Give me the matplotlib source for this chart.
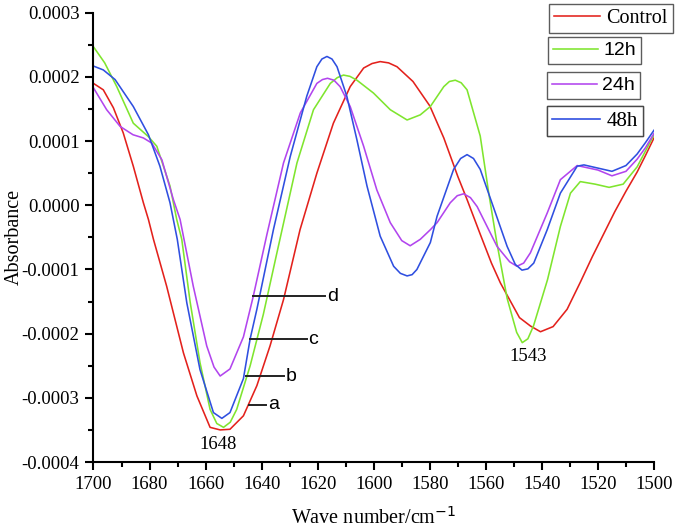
import matplotlib
matplotlib.use("Agg")
import matplotlib.pyplot as plt
from matplotlib.ticker import FixedLocator, FuncFormatter, MultipleLocator

plt.rcParams['font.family'] = 'Liberation Serif'
plt.rcParams['axes.unicode_minus'] = False

# readings, wave number (cm-1) and absorbance (x1e-4)
control_x = [1700, 1696.5, 1692.9, 1689.4, 1685.8, 1682.2, 1680.4, 1678.6, 1673.9, 1667.9,
             1663.1, 1658.4, 1654.8, 1651.3, 1646.5, 1641.7, 1637, 1632.2, 1626.3, 1620.3,
             1614.4, 1608.4, 1603.6, 1600.6, 1597.7, 1594.7, 1591.7, 1586, 1580, 1575,
             1570, 1566.7, 1562, 1558, 1554.8, 1548, 1544.1, 1540.5, 1536, 1531,
             1526.3, 1522, 1518, 1514, 1510, 1506, 1503, 1500]
control_y = [1.90, 1.80, 1.52, 1.13, 0.61, 0.04, -0.22, -0.53, -1.26, -2.30,
             -2.97, -3.46, -3.50, -3.49, -3.28, -2.81, -2.19, -1.47, -0.38, 0.50,
             1.28, 1.85, 2.14, 2.21, 2.24, 2.22, 2.16, 1.93, 1.55, 1.05,
             0.45, 0.09, -0.45, -0.90, -1.21, -1.75, -1.88, -1.97, -1.89, -1.62,
             -1.20, -0.80, -0.45, -0.10, 0.22, 0.52, 0.78, 1.05]

h12_x = [1700, 1696, 1691.7, 1685.8, 1680.4, 1677.4, 1672.7, 1670.3, 1668.5, 1665.5,
         1662, 1658.4, 1656, 1653.6, 1651.2, 1648.9, 1644.1, 1639.4, 1634.6, 1627.4,
         1621.5, 1615.5, 1613, 1610.8, 1608.5, 1606, 1600.1, 1594.1, 1588.1, 1583.4,
         1579.8, 1575, 1573, 1570.9, 1568.8, 1566.7, 1562, 1559, 1556, 1552.4,
         1549, 1547, 1545, 1543, 1538, 1533.4, 1529.8, 1526.3, 1521, 1516,
         1511, 1506, 1503, 1500]
h12_y = [2.47, 2.22, 1.85, 1.28, 1.07, 0.92, 0.30, -0.22, -0.53, -1.51,
         -2.45, -3.18, -3.40, -3.46, -3.38, -3.18, -2.50, -1.70, -0.75, 0.66,
         1.49, 1.90, 1.99, 2.03, 2.01, 1.95, 1.75, 1.49, 1.33, 1.41,
         1.54, 1.85, 1.93, 1.95, 1.91, 1.80, 1.08, 0.20, -0.60, -1.45,
         -1.98, -2.14, -2.08, -1.88, -1.16, -0.33, 0.19, 0.37, 0.33, 0.28,
         0.33, 0.60, 0.85, 1.10]

h24_x = [1700, 1695.3, 1690.5, 1685.9, 1682.2, 1679.2, 1675.6, 1671.5, 1669.1, 1664.4,
         1659.6, 1657, 1654.8, 1651.3, 1646.5, 1643, 1638.1, 1632.2, 1626.2, 1620.3,
         1618.3, 1616.5, 1614.2, 1612, 1608.4, 1603.6, 1598.9, 1594.1, 1590, 1587,
         1583.4, 1579.8, 1577.4, 1572.7, 1570.2, 1567.9, 1565.5, 1563.1, 1556, 1551.5,
         1548.9, 1546.5, 1544.1, 1538.1, 1533.4, 1527.4, 1520, 1515, 1510, 1506,
         1503, 1500]
h24_y = [1.83, 1.49, 1.23, 1.10, 1.05, 0.97, 0.71, 0.09, -0.22, -1.26,
         -2.19, -2.52, -2.66, -2.55, -2.05, -1.42, -0.45, 0.66, 1.44, 1.90,
         1.96, 1.98, 1.95, 1.85, 1.54, 0.92, 0.24, -0.27, -0.55, -0.63,
         -0.53, -0.38, -0.27, 0.04, 0.15, 0.18, 0.12, -0.02, -0.64, -0.88,
         -0.95, -0.90, -0.74, -0.12, 0.40, 0.62, 0.55, 0.46, 0.53, 0.72,
         0.90, 1.12]

h48_x = [1700, 1696.5, 1692.3, 1685.8, 1680.4, 1676.3, 1672.7, 1670.1, 1666.7, 1662,
         1657.2, 1654.2, 1651.3, 1646.5, 1644.1, 1641.7, 1635.8, 1629.8, 1623.9, 1620.3,
         1618.5, 1616.7, 1614.9, 1613.1, 1609.6, 1606, 1602.4, 1597.7, 1592.9, 1590.5,
         1588.1, 1586.3, 1584.6, 1579.8, 1577.4, 1571.5, 1569, 1566.7, 1564.4, 1562,
         1557.2, 1552.4, 1549.5, 1547.1, 1545, 1542.9, 1538.1, 1533.4, 1527.4, 1525,
         1520, 1515, 1510, 1506, 1503, 1500]
h48_y = [2.17, 2.11, 1.96, 1.54, 1.10, 0.61, 0.04, -0.53, -1.52, -2.56,
         -3.23, -3.32, -3.23, -2.70, -2.08, -1.62, -0.38, 0.76, 1.70, 2.16,
         2.28, 2.32, 2.28, 2.16, 1.70, 1.02, 0.30, -0.48, -0.95, -1.06,
         -1.10, -1.08, -1.00, -0.58, -0.17, 0.56, 0.73, 0.79, 0.73, 0.56,
         -0.04, -0.64, -0.92, -1.01, -0.99, -0.90, -0.38, 0.19, 0.61, 0.63,
         0.58, 0.53, 0.62, 0.80, 0.98, 1.17]

series = [
    ("Control", control_x, control_y, "#e3211c", "Liberation Serif", 14.5),
    ("12h", h12_x, h12_y, "#7fe52e", "Liberation Sans", 14),
    ("24h", h24_x, h24_y, "#b245ee", "Liberation Sans", 14),
    ("48h", h48_x, h48_y, "#2f4fe0", "Liberation Serif", 15),
]

# labelled leader lines: letter, x from, x to, y (x1e-4)
leaders = [("a", 1644.4, 1638.4, -3.11),
           ("b", 1645.5, 1632.0, -2.66),
           ("c", 1644.1, 1623.9, -2.09),
           ("d", 1643.1, 1617.3, -1.42)]

peak_labels = [("1648", 1655.4, -3.72), ("1543", 1544.8, -2.35)]

yticks = [-4, -3, -2, -1, 0, 1, 2, 3]
xticks = [1700, 1680, 1660, 1640, 1620, 1600, 1580, 1560, 1540, 1520, 1500]

fig = plt.figure(figsize=(6.77, 5.30), dpi=100)
ax = fig.add_axes([0.1381, 0.1283, 0.8279, 0.8475])

lines = []
for name, xs, ys, col, fam, fs in series:
    ln, = ax.plot(xs, [v * 1e-4 for v in ys], color=col, lw=1.15)
    lines.append(ln)

for letter, x0, x1, yv in leaders:
    ax.plot([x0, x1], [yv * 1e-4, yv * 1e-4], color="#222222", lw=1.4)
    ax.text(x1 - 0.6, yv * 1e-4, letter, family="Liberation Sans", fontsize=14,
            ha="left", va="center")

for txt, xv, yv in peak_labels:
    ax.text(xv, yv * 1e-4, txt, fontsize=13.5, ha="center", va="center")

ax.set_xlim(1700, 1500)
ax.set_ylim(-0.0004, 0.0003)
ax.yaxis.set_major_locator(FixedLocator([t * 1e-4 for t in yticks]))
ax.yaxis.set_minor_locator(FixedLocator([(t + 0.5) * 1e-4 for t in yticks[:-1]]))
ax.yaxis.set_major_formatter(FuncFormatter(lambda v, p: "%.4f" % (round(v * 1e4) / 1e4) if round(v * 1e4) != 0 else "0.0000"))
ax.xaxis.set_major_locator(FixedLocator(xticks))
ax.xaxis.set_minor_locator(MultipleLocator(10))

for s in ["top", "right"]:
    ax.spines[s].set_visible(False)
for s in ["left", "bottom"]:
    ax.spines[s].set_linewidth(1.5)
ax.tick_params(which="major", direction="out", length=6, width=1.5, labelsize=13.5, pad=4)
ax.tick_params(which="minor", direction="out", length=3.5, width=1.5)

ax.set_xlabel("Wave number/cm$^{-1}$", fontsize=14.5)
ax.set_ylabel("Absorbance", fontsize=14.5)
ax.xaxis.set_label_coords(0.5, -0.1)
ax.yaxis.set_label_coords(-0.125, 0.5)

# separate legend boxes at top right
box_tops = [(549, 4), (548, 37), (547, 72), (547, 106)]
for (name, xs, ys, col, fam, fs), ln, (bx, by) in zip(series, lines, box_tops):
    leg = ax.legend([ln], [name], loc="upper left",
                    bbox_to_anchor=(bx / 677, 1 - by / 530), bbox_transform=fig.transFigure,
                    prop={"family": fam, "size": fs}, frameon=True, fancybox=False,
                    borderaxespad=0, borderpad=0.25, handlelength=2.3, handletextpad=0.3)
    leg.get_frame().set_edgecolor("#333333")
    leg.get_frame().set_linewidth(1.0)
    ax.add_artist(leg)

fig.savefig("out.png", dpi=100)
